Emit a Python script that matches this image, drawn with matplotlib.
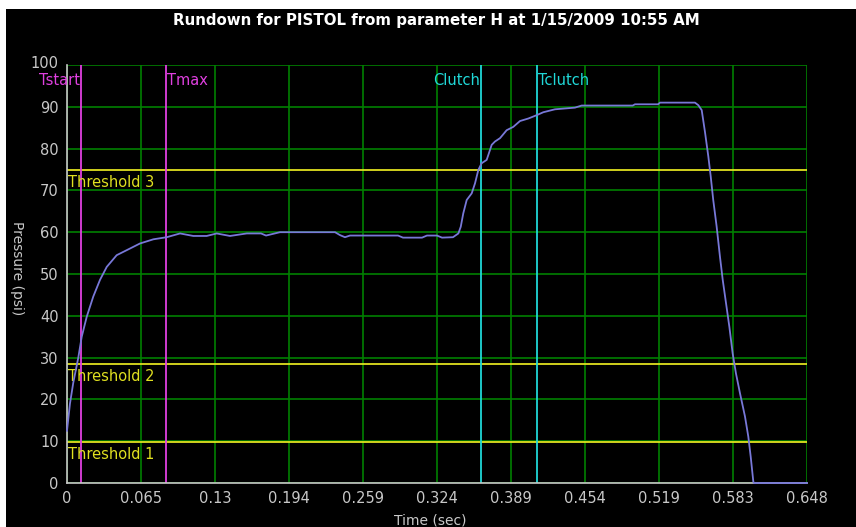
import matplotlib
matplotlib.use("Agg")
import matplotlib.pyplot as plt
from matplotlib.patches import Rectangle
from matplotlib.transforms import ScaledTranslation

# ---- data ----
time_s = [0.0, 0.0026, 0.0055, 0.0099, 0.0129, 0.0173, 0.0230, 0.0289, 0.0348, 0.0435,
          0.0552, 0.0639, 0.0756, 0.0873, 0.0990, 0.1106, 0.1223, 0.1311, 0.1427, 0.1574,
          0.1699, 0.1743, 0.1804, 0.1865, 0.2347, 0.2391, 0.2434, 0.2478, 0.2899, 0.2942,
          0.3109, 0.3152, 0.3240, 0.3284, 0.3380, 0.3427, 0.3448, 0.3470, 0.3500, 0.3544,
          0.3573, 0.3602, 0.3631, 0.3675, 0.3719, 0.3748, 0.3792, 0.3850, 0.3908, 0.3967,
          0.4040, 0.4113, 0.4171, 0.4273, 0.4448, 0.4507, 0.4954, 0.4974, 0.5175, 0.5193,
          0.5499, 0.5528, 0.5558, 0.5587, 0.5616, 0.5637, 0.5659, 0.5689, 0.5718, 0.5742,
          0.5771, 0.5800, 0.5829, 0.5858, 0.5893, 0.5937, 0.5966, 0.5987, 0.6010, 0.6016,
          0.648]
pressure = [12.5, 19.0, 24.0, 30.0, 35.0, 39.8, 44.6, 48.6, 51.7, 54.5,
            56.1, 57.3, 58.3, 58.8, 59.7, 59.1, 59.1, 59.7, 59.1, 59.7,
            59.7, 59.2, 59.6, 60.0, 60.0, 59.3, 58.8, 59.2, 59.2, 58.7,
            58.7, 59.2, 59.2, 58.7, 58.8, 59.7, 61.3, 64.5, 67.7, 69.3,
            71.7, 74.9, 76.5, 77.3, 80.9, 81.7, 82.5, 84.4, 85.2, 86.6,
            87.2, 88.0, 88.7, 89.4, 89.8, 90.3, 90.3, 90.6, 90.6, 91.0,
            91.0, 90.4, 89.2, 83.9, 78.1, 73.3, 67.7, 61.3, 54.1, 48.6,
            43.0, 37.4, 31.0, 26.2, 21.5, 15.9, 11.1, 6.3, 0.3, 0.0,
            0.0]

x_tick_labels = ["0", "0.065", "0.13", "0.194", "0.259", "0.324", "0.389",
                 "0.454", "0.519", "0.583", "0.648"]
y_tick_labels = ["0", "10", "20", "30", "40", "50", "60", "70", "80", "90", "100"]

threshold_names = ["Threshold 1", "Threshold 2", "Threshold 3"]
threshold_values = [9.8, 28.5, 74.8]

marker_names = ["Tstart", "Tmax", "Clutch", "Tclutch"]
marker_times = [0.0123, 0.0864, 0.3625, 0.4116]
marker_colors = ["#e040e0", "#e040e0", "#20d8d8", "#20d8d8"]
marker_label_side = ["left", "right", "left", "right"]

title = "Rundown for PISTOL from parameter H at 1/15/2009 10:55 AM"

# ---- figure ----
W, H = 856, 527
fig = plt.figure(figsize=(W / 100, H / 100), dpi=100)
fig.patch.set_facecolor("black")
# white border at top and left
fig.patches.append(Rectangle((0, 1 - 9 / H), 1, 9 / H, transform=fig.transFigure,
                             facecolor="white", edgecolor="none", zorder=0))
fig.patches.append(Rectangle((0, 0), 6 / W, 1, transform=fig.transFigure,
                             facecolor="white", edgecolor="none", zorder=0))

left, right, top, bottom = 67, 807, 65, 483
ax = fig.add_axes([left / W, 1 - bottom / H, (right - left) / W, (bottom - top) / H])
ax.set_facecolor("black")

xmax = 0.648
ax.set_xlim(0, xmax)
ax.set_ylim(0, 100)
xt = [i * xmax / 10 for i in range(11)]
ax.set_xticks(xt)
ax.set_xticklabels(x_tick_labels)
ax.set_yticks(range(0, 101, 10))
ax.set_yticklabels(y_tick_labels)

ax.grid(True, color="#008000", linewidth=1.2)
ax.set_axisbelow(True)
ax.tick_params(colors="#c8c8c8", length=0, labelsize=10.5, pad=6)
for s in ["top", "right"]:
    ax.spines[s].set_visible(False)
for s in ["left", "bottom"]:
    ax.spines[s].set_color("#c8c8c8")
    ax.spines[s].set_linewidth(1.2)

# nudge top y label up a bit, as in the reference
top_lab = ax.get_yticklabels()[-1]
top_lab.set_transform(top_lab.get_transform() + ScaledTranslation(0, 3 / 100, fig.dpi_scale_trans))

# thresholds
for name, v in zip(threshold_names, threshold_values):
    ax.axhline(v, color="#e0e020", linewidth=1.3, zorder=2)
    ax.text(0.001, v - 1.2, name, color="#e0e020", fontsize=10.5, va="top", ha="left", zorder=3)

# markers
for name, t, c, side in zip(marker_names, marker_times, marker_colors, marker_label_side):
    ax.axvline(t, color=c, linewidth=1.3, zorder=2)
    if side == "left":
        ax.text(t - 0.001, 96.2, name, color=c, fontsize=10.5, ha="right", va="center", zorder=3)
    else:
        ax.text(t + 0.001, 96.2, name, color=c, fontsize=10.5, ha="left", va="center", zorder=3)

# curve
ax.plot(time_s, pressure, color="#7878d8", linewidth=1.3, zorder=4, clip_on=False)

fig.text(436 / W, 1 - 20 / H, title, color="white", fontsize=10.8, fontweight="semibold",
         ha="center", va="center")
fig.text(17 / W, 1 - 268 / H, "Pressure (psi)", color="#c8c8c8", fontsize=10,
         rotation=270, ha="center", va="center")
fig.text(430 / W, 1 - 521 / H, "Time (sec)", color="#c8c8c8", fontsize=10,
         ha="center", va="center")

fig.savefig("out.png", dpi=100, facecolor=fig.get_facecolor())
